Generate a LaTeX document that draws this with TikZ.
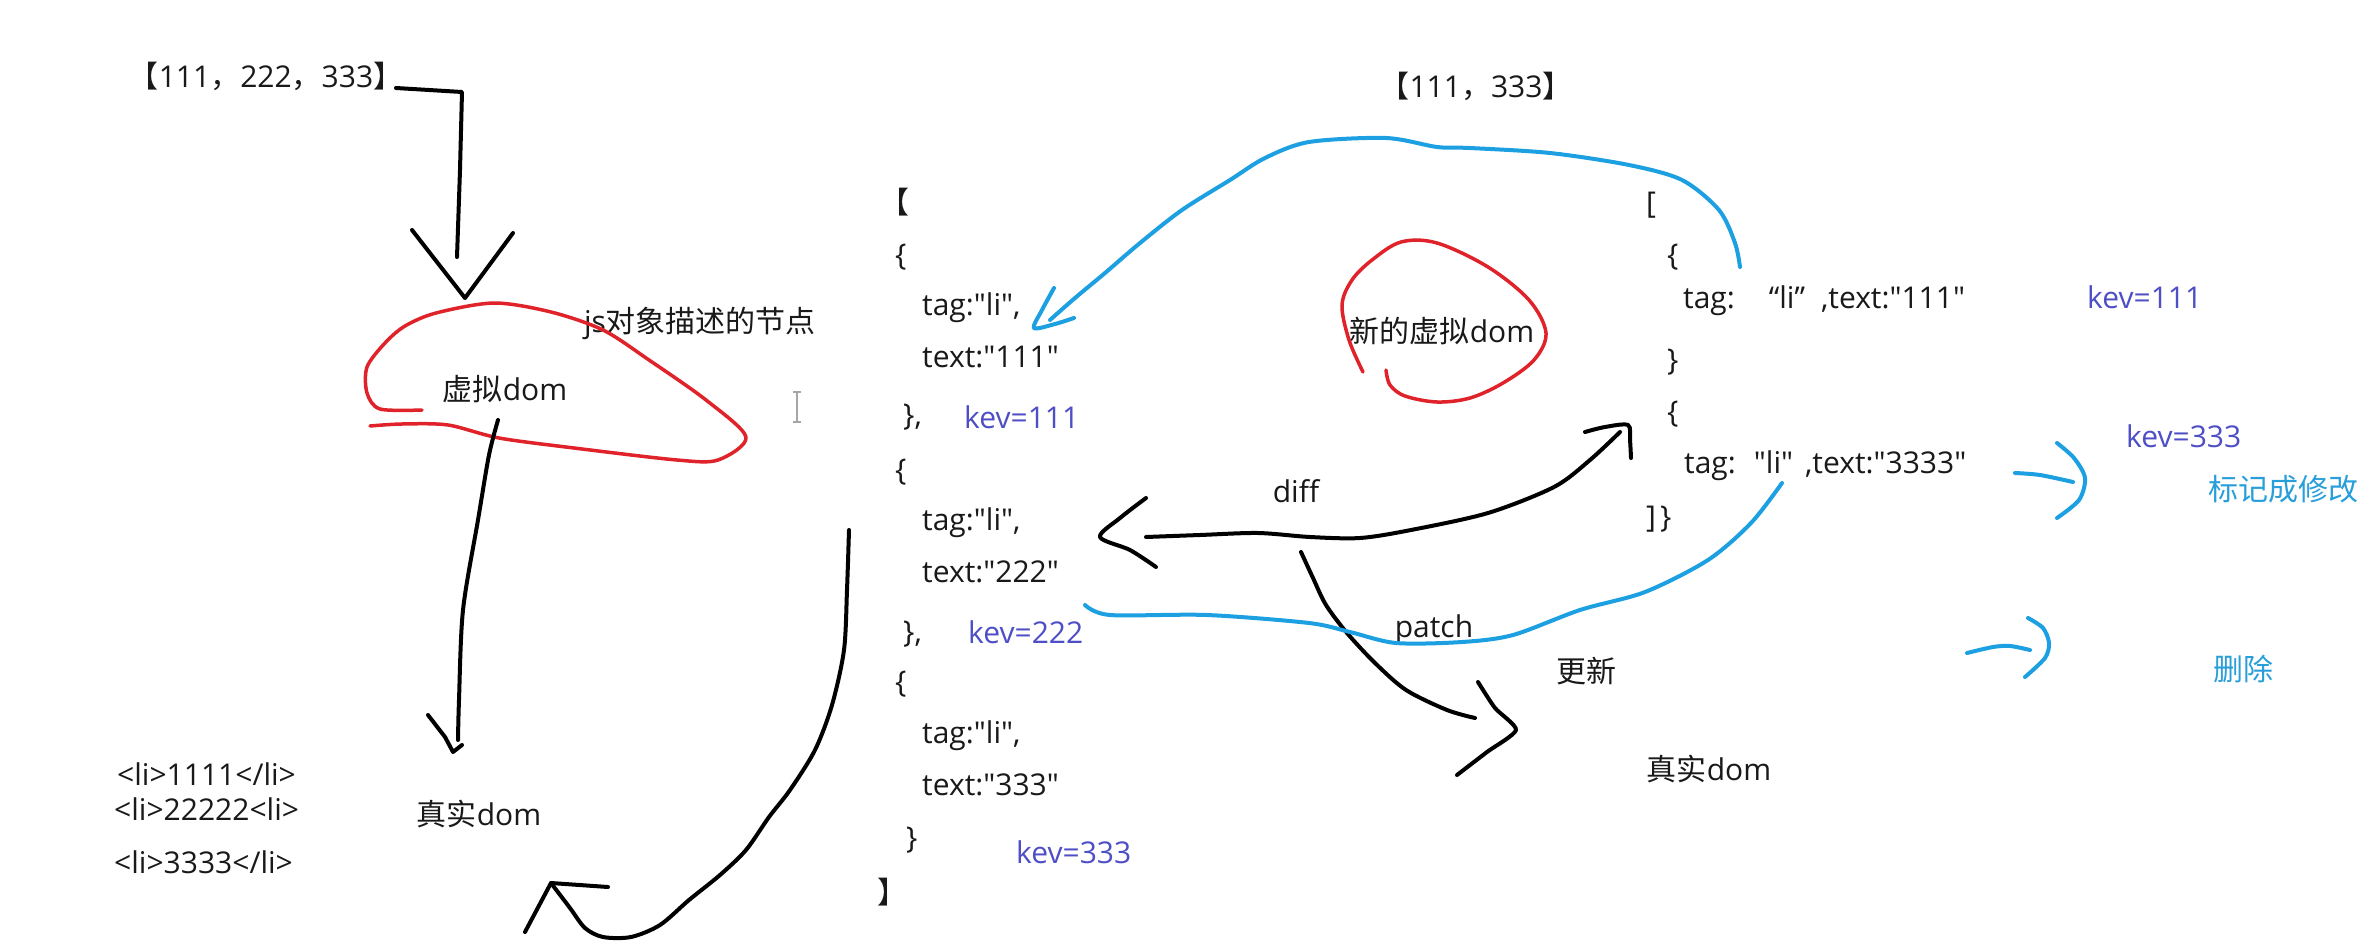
\documentclass[tikz,border=0pt]{standalone}
\usepackage{fontspec}
\setmainfont{Open Sans}[Ligatures=TeXOff]
\newfontfamily\cjkfont{Noto Sans CJK SC}
\newcommand{\zhs}[1]{{\cjkfont #1}}
\definecolor{inkred}{RGB}{224,35,42}
\definecolor{inkblue}{RGB}{28,160,226}
\definecolor{keyblue}{RGB}{78,78,198}
\definecolor{lblue}{RGB}{40,158,218}
\definecolor{txtc}{RGB}{25,25,25}
\begin{document}
\begin{tikzpicture}[x=1pt,y=-1pt,
  lbl/.style={inner sep=0pt, text=txtc, text height=21.6pt, text depth=0pt, font=\fontsize{30}{36}\selectfont},
  codeln/.style={lbl, anchor=west},
  keylbl/.style={lbl, anchor=west, text=keyblue},
  notelbl/.style={lbl, anchor=west, text=lblue},
  blackink/.style={line width=4pt, black, line cap=round, line join=round},
  blueink/.style={line width=4pt, inkblue, line cap=round, line join=round},
  redink/.style={line width=3.5pt, inkred, line cap=round, line join=round}]
\fill[white] (0,0) rectangle (2378,942);
\useasboundingbox (0,0) rectangle (2378,942);

% ---------- left part ----------
\node[lbl] (arrA) at (266,77) {\zhs{【}111\zhs{，}222\zhs{，}333\zhs{】}};
\node[lbl] (vd) at (505,390) {\zhs{虚拟}dom};
\node[lbl] (jsd) at (700,322) {js\zhs{对象描述的节点}};
\node[lbl] (rd1) at (479,815) {\zhs{真实}dom};
\node[codeln] (li1) at (117,775) {<li>1111</li>};
\node[codeln] (li2) at (114,810) {<li>22222<li>};
\node[codeln] (li3) at (114,863) {<li>3333</li>};

% text cursor
\draw[gray!70, line width=1.6pt] (797,392) -- (797,422) (793,392) -- (801,392) (793,422) -- (801,422);

% ---------- old virtual dom list ----------
\node[lbl, anchor=east] (ob) at (910,203) {\zhs{【}};
\node[codeln] (o1) at (895,255) {\{};
\node[codeln] (o2) at (922,305) {tag:"li",};
\node[codeln] (o3) at (922,357) {text:"111"};
\node[codeln] (o4) at (903,415) {\},};
\node[keylbl] (k1) at (964,418) {kev=111};
\node[codeln] (o5) at (895,470) {\{};
\node[codeln] (o6) at (922,520) {tag:"li",};
\node[codeln] (o7) at (922,572) {text:"222"};
\node[codeln] (o8) at (903,632) {\},};
\node[keylbl] (k2) at (968,633) {kev=222};
\node[codeln] (o9) at (895,682) {\{};
\node[codeln] (o10) at (922,733) {tag:"li",};
\node[codeln] (o11) at (922,785) {text:"333"};
\node[codeln] (o12) at (906,838) {\}};
\node[keylbl] (k3) at (1016,853) {kev=333};
\node[lbl, anchor=west] (cb) at (877,893) {\zhs{】}};

% ---------- middle labels ----------
\node[lbl] (nvd) at (1442,332) {\zhs{新的虚拟}dom};
\node[lbl] (difft) at (1296,492) {diff};
\node[lbl] (patcht) at (1434,627) {patch};
\node[lbl] (upd) at (1586,672) {\zhs{更新}};
\node[lbl] (rd2) at (1709,770) {\zhs{真实}dom};

% ---------- new list ----------
\node[lbl] (arrB) at (1476,87) {\zhs{【}111\zhs{，}333\zhs{】}};
\node[codeln] (n0) at (1646,203) {[};
\node[codeln] (n1) at (1667,255) {\{};
\node[codeln] (n2) at (1683,298) {tag:\hspace{34pt}“li”\hspace{16pt},text:"111"};
\node[codeln] (n3) at (1667,360) {\}};
\node[codeln] (n4) at (1667,412) {\{};
\node[codeln] (n5) at (1684,463) {tag:\hspace{18pt}"li"\hspace{12pt},text:"3333"};
\node[codeln] (n6) at (1646,517) {]\hspace{4pt}\}};
\node[keylbl] (k4) at (2087,298) {kev=111};
\node[keylbl] (k5) at (2126,437) {kev=333};
\node[notelbl] (mark) at (2208,490) {\zhs{标记成修改}};
\node[notelbl] (del) at (2213,670) {\zhs{删除}};

% ---------- connectors ----------
% array -> virtual dom
\coordinate (a1s) at (396,88);
\coordinate (a1t) at (465,298);
\draw[blackink] (a1s) -- (462,92) -- (460,170) -- (457,257);
\draw[blackink] (412,230) -- (a1t) -- (513,233);

% red blob round virtual dom
\draw[redink] plot[smooth, tension=0.5] coordinates {(422,410) (380,409) (367,393) (367,367) (385,343) (405,326) (436,313) (494,303) (551,312) (603,330) (649,360) (706,400) (746,437) (718,460) (677,460) (574,448) (499,438) (448,425) (402,424) (370,426)};

% virtual dom -> real dom
\coordinate (a2s) at (498,420);
\coordinate (a2t) at (453,752);
\draw[blackink] plot[smooth] coordinates {(a2s) (489,455) (478,520) (463,610) (459,700) (458,740)};
\draw[blackink] (428,715) -- (445,737) -- (a2t) -- (462,745);

% old list -> real dom (lower curve)
\coordinate (a3s) at (849,530);
\coordinate (a3t) at (551,883);
\draw[blackink] plot[smooth] coordinates {(a3s) (847,590) (844,650) (832,705) (815,750) (790,790) (769,817) (746,850) (720,875) (689,900) (660,925) (631,937) (603,937) (585,928) (570,908) (a3t)};
\draw[blackink] (525,932) -- (a3t) -- (608,887);

% new list -> first item (blue arc)
\coordinate (b1s) at (1740,267);
\coordinate (b1t) at (1034,328);
\draw[blueink] plot[smooth] coordinates {(b1s) (1735,243) (1719,210) (1682,180) (1629,165) (1550,153) (1470,148) (1437,147) (1386,138) (1309,142) (1265,158) (1230,180) (1182,210) (1140,243) (1105,273) (1075,298) (1050,320)};
\draw[blueink] plot[smooth] coordinates {(1054,288) (1042,310) (b1t) (1055,324) (1074,318)};

% red circle round new virtual dom
\draw[redink] plot[smooth, tension=0.55] coordinates {(1363,372) (1349,340) (1342,305) (1352,280) (1372,260) (1401,242) (1437,243) (1488,267) (1529,300) (1546,333) (1534,360) (1503,383) (1470,398) (1437,402) (1405,396) (1390,385) (1386,370)};

% diff (double arrow)
\coordinate (dL) at (1100,537);
\coordinate (dR) at (1628,425);
\draw[blackink] plot[smooth] coordinates {(1146,537) (1200,535) (1258,533) (1310,537) (1360,538) (1411,530) (1488,513) (1554,487) (1590,460) (1620,432)};
\draw[blackink] plot[smooth] coordinates {(1146,498) (1120,518) (dL) (1130,550) (1156,567)};
\draw[blackink] plot[smooth] coordinates {(1585,432) (1605,427) (dR) (1630,440) (1631,458)};

% patch arrow
\coordinate (pT) at (1516,730);
\draw[blackink] plot[smooth] coordinates {(1301,552) (1313,578) (1326,605) (1347,633) (1375,663) (1406,690) (1447,710) (1475,718)};
\draw[blackink] plot[smooth, tension=0.4] coordinates {(1478,682) (1495,708) (pT) (1487,752) (1457,775)};

% blue patch curve
\draw[blueink] plot[smooth] coordinates {(1085,605) (1110,615) (1207,615) (1309,623) (1350,632) (1396,643) (1462,642) (1513,635) (1580,610) (1645,592) (1708,560) (1751,523) (1782,483)};

% small blue arrows
\coordinate (s1t) at (2085,478);
\draw[blueink] plot[smooth] coordinates {(2015,473) (2040,475) (2073,482)};
\draw[blueink] plot[smooth] coordinates {(2057,443) (2074,458) (s1t) (2079,500) (2057,518)};
\coordinate (s2t) at (2049,643);
\draw[blueink] plot[smooth] coordinates {(1967,653) (1993,647) (2010,646) (2030,650)};
\draw[blueink] plot[smooth] coordinates {(2028,618) (2043,628) (s2t) (2045,658) (2025,677)};
\end{tikzpicture}
\end{document}
